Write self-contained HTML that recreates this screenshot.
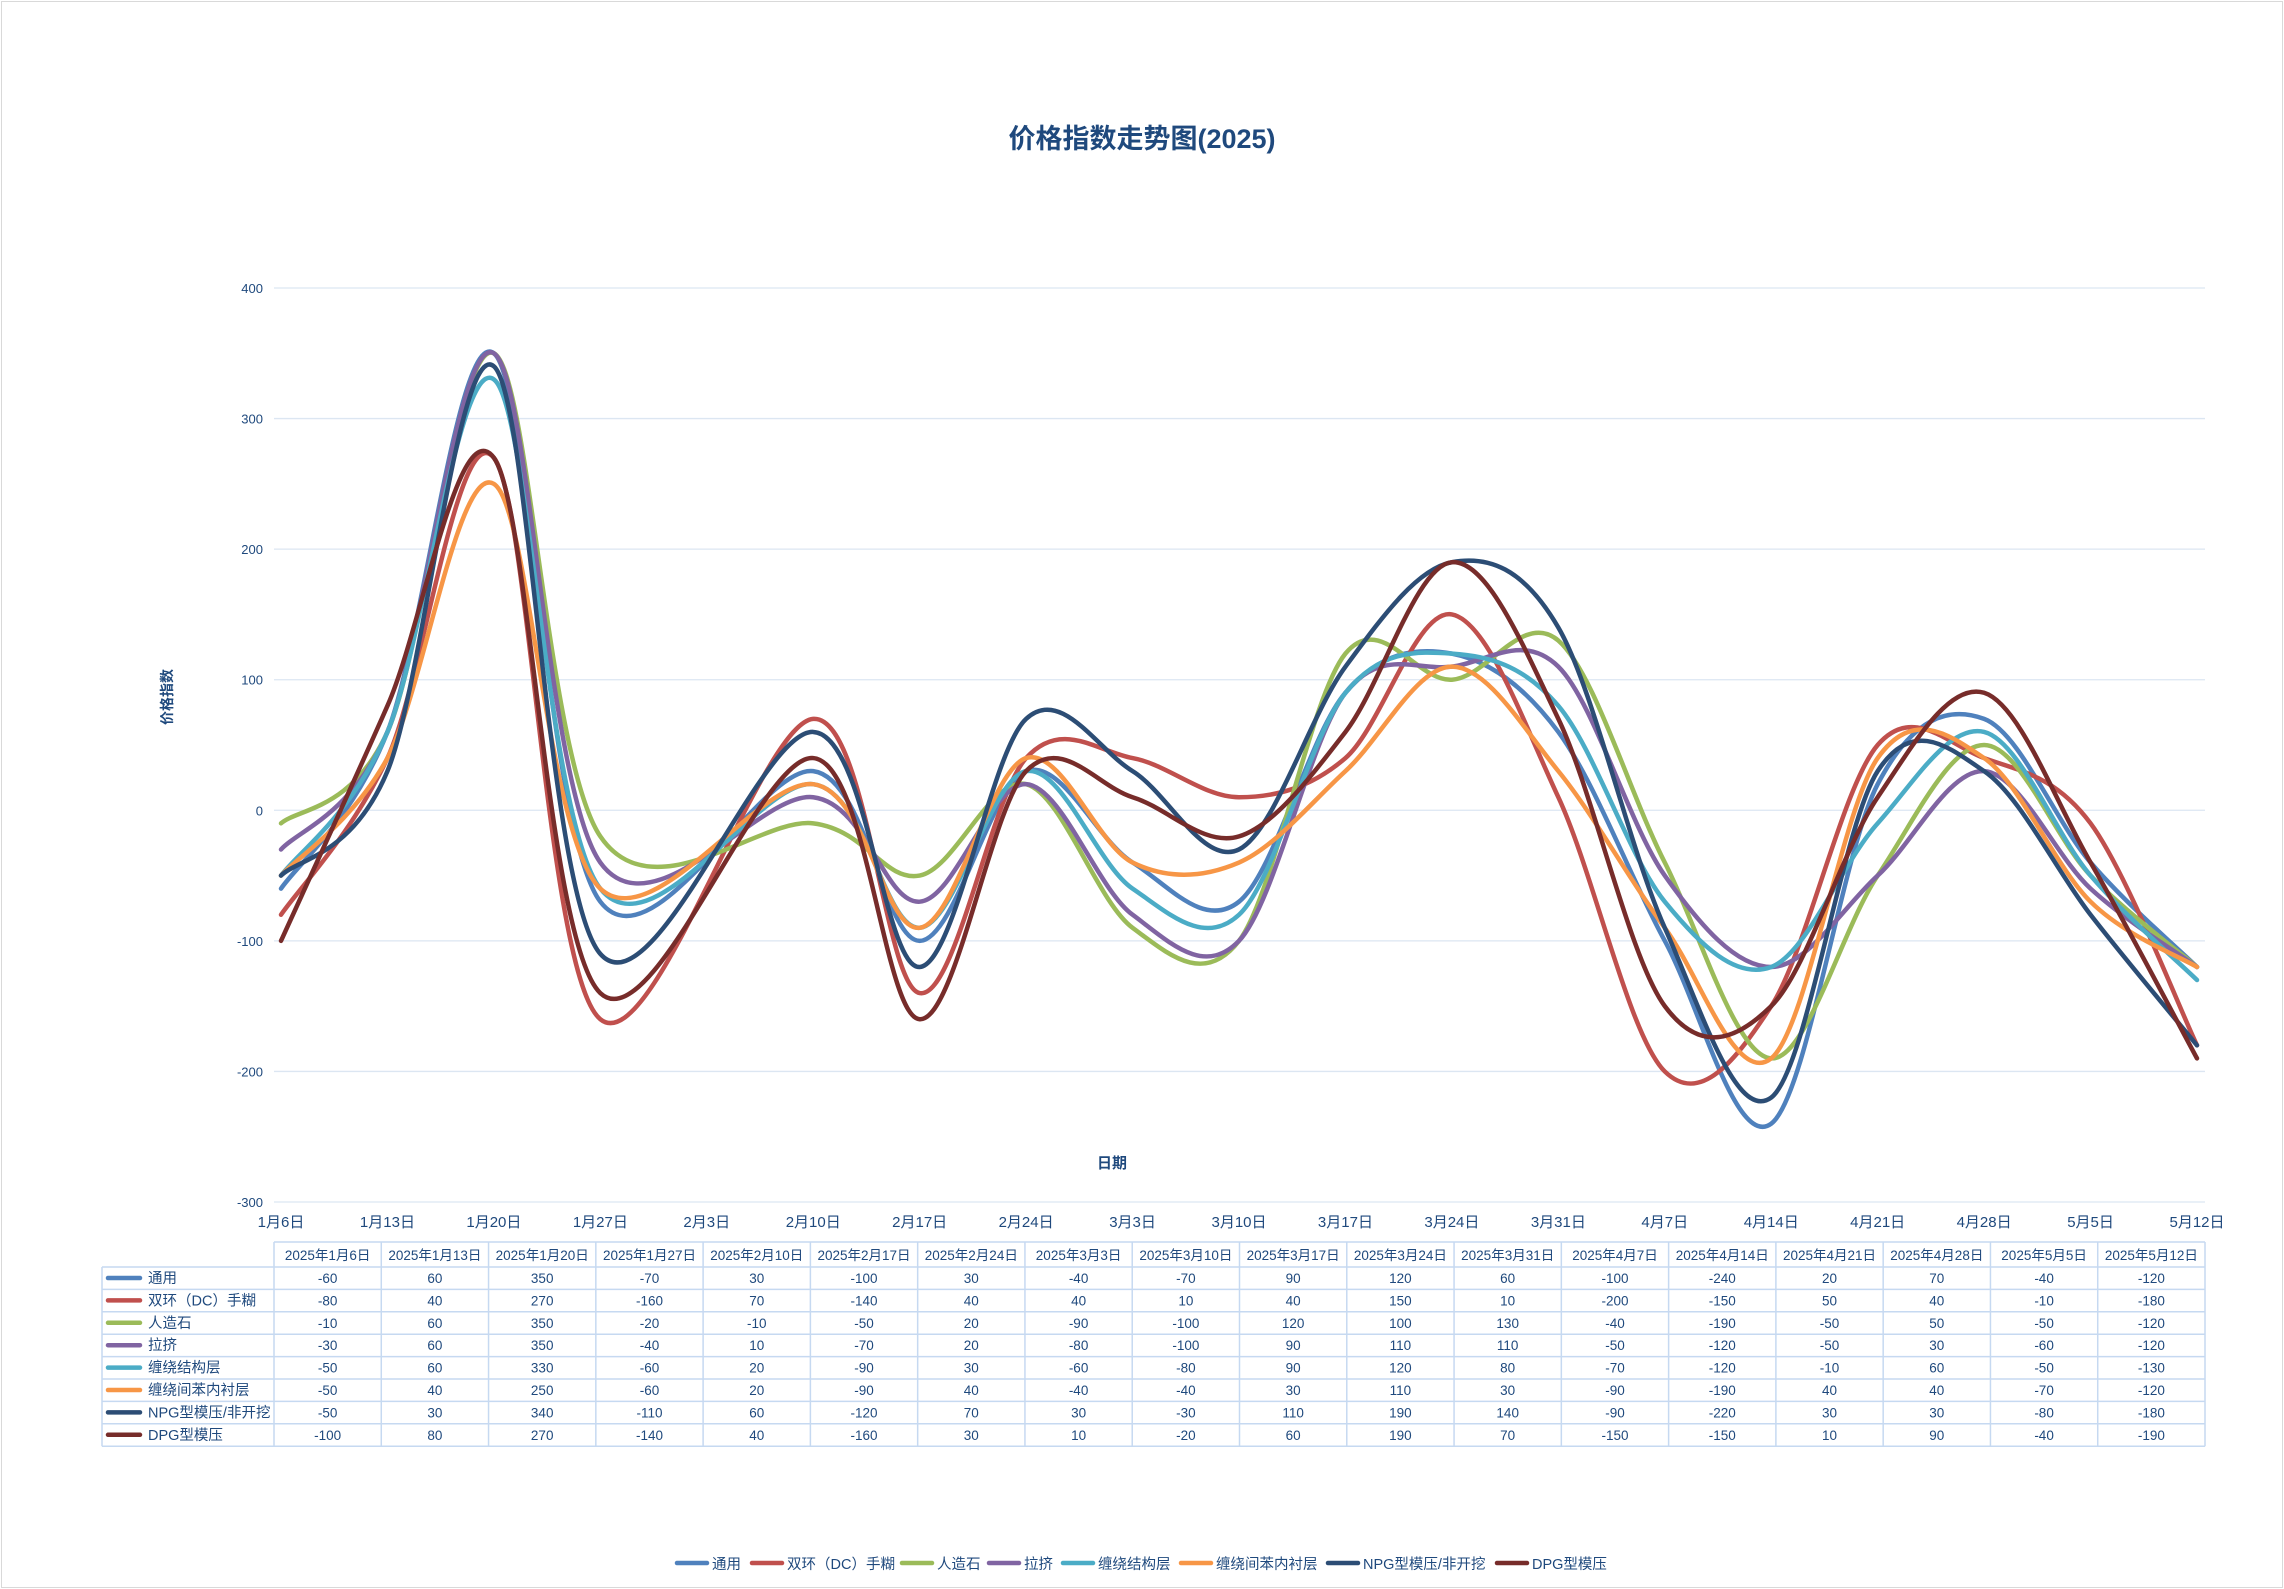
<!DOCTYPE html>
<html><head><meta charset="utf-8">
<style>
body{margin:0;background:#fff;}
#wrap{position:relative;width:2284px;height:1589px;overflow:hidden;background:#fff;font-family:"Liberation Sans","Noto Sans CJK SC",sans-serif;color:#1F497D;}
#frame{position:absolute;left:1px;top:1px;width:2280px;height:1585px;border:1px solid #D9D9D9;}
svg text{font-family:"Liberation Sans","Noto Sans CJK SC",sans-serif;fill:#1F497D;}
</style></head>
<body>
<div id="wrap">
<div id="frame"></div>
<svg id="chart" width="2284" height="1589"></svg>
</div>
<script>
const categories=["1月6日","1月13日","1月20日","1月27日","2月3日","2月10日","2月17日","2月24日","3月3日","3月10日","3月17日","3月24日","3月31日","4月7日","4月14日","4月21日","4月28日","5月5日","5月12日"];
const tableDates=["2025年1月6日","2025年1月13日","2025年1月20日","2025年1月27日","2025年2月10日","2025年2月17日","2025年2月24日","2025年3月3日","2025年3月10日","2025年3月17日","2025年3月24日","2025年3月31日","2025年4月7日","2025年4月14日","2025年4月21日","2025年4月28日","2025年5月5日","2025年5月12日"];
const seriesNames=["通用","双环（DC）手糊","人造石","拉挤","缠绕结构层","缠绕间苯内衬层","NPG型模压/非开挖","DPG型模压"];
const sTongyong=[-60,60,350,-70,30,-100,30,-40,-70,90,120,60,-100,-240,20,70,-40,-120];
const sShuanghuan=[-80,40,270,-160,70,-140,40,40,10,40,150,10,-200,-150,50,40,-10,-180];
const sRenzaoshi=[-10,60,350,-20,-10,-50,20,-90,-100,120,100,130,-40,-190,-50,50,-50,-120];
const sLaji=[-30,60,350,-40,10,-70,20,-80,-100,90,110,110,-50,-120,-50,30,-60,-120];
const sChanraoJG=[-50,60,330,-60,20,-90,30,-60,-80,90,120,80,-70,-120,-10,60,-50,-130];
const sChanraoNC=[-50,40,250,-60,20,-90,40,-40,-40,30,110,30,-90,-190,40,40,-70,-120];
const sNPG=[-50,30,340,-110,60,-120,70,30,-30,110,190,140,-90,-220,30,30,-80,-180];
const sDPG=[-100,80,270,-140,40,-160,30,10,-20,60,190,70,-150,-150,10,90,-40,-190];
const yTicks=[400,300,200,100,0,-100,-200,-300];
const allSeries=[sTongyong,sShuanghuan,sRenzaoshi,sLaji,sChanraoJG,sChanraoNC,sNPG,sDPG];
const colors=["#4F81BD","#C0504D","#9BBB59","#8064A2","#4BACC6","#F79646","#2C4D75","#772C2A"];
const NS="http://www.w3.org/2000/svg";
const svg=document.getElementById('chart');
const plotL=274,plotR=2205,yTop=288,yBot=1202;
const xStart=281,xEnd=2197;
function yScale(v){return yBot-(v+300)/700*(yBot-yTop);}
function xScale(i){return xStart+i*(xEnd-xStart)/(categories.length-1);}
function dateX(j){return xScale(categories.indexOf(tableDates[j].replace('2025年','')));}
function mk(tag,attrs,parent){const e=document.createElementNS(NS,tag);for(const k in attrs)e.setAttribute(k,attrs[k]);(parent||svg).appendChild(e);return e;}
let t=mk('text',{x:1142,y:148,'font-size':27,'font-weight':'bold','text-anchor':'middle'});


t.textContent='价格指数走势图(2025)';
yTicks.forEach(v=>{
 const y=yScale(v);
 const g=mk('line',{x1:plotL,x2:plotR,y1:y,y2:y,stroke:'#DCE6F2','stroke-width':1.3});
 
 
 const l=mk('text',{x:263,y:y+5,'font-size':13,'text-anchor':'end'});
 
 
 l.textContent=v;
});
t=mk('text',{x:0,y:0,'font-size':14,'font-weight':'bold','text-anchor':'middle',transform:'translate(172,697) rotate(-90)'});


t.textContent='价格指数';
categories.forEach((c,i)=>{
 const l=mk('text',{x:xScale(i),y:1227,'font-size':15,'text-anchor':'middle'});
 
 
 l.textContent=c;
});
t=mk('text',{x:1112,y:1168,'font-size':15,'font-weight':'bold','text-anchor':'middle'});


t.textContent='日期';
function pathFor(vals){
 const p=vals.map((v,j)=>[dateX(j),yScale(v)]);
 let d='M'+p[0][0]+','+p[0][1];
 for(let i=0;i<p.length-1;i++){
  const p0=p[i-1]||p[i],p1=p[i],p2=p[i+1],p3=p[i+2]||p[i+1];
  const c1=[p1[0]+(p2[0]-p0[0])/6,p1[1]+(p2[1]-p0[1])/6];
  const c2=[p2[0]-(p3[0]-p1[0])/6,p2[1]-(p3[1]-p1[1])/6];
  d+=' C'+c1[0]+','+c1[1]+' '+c2[0]+','+c2[1]+' '+p2[0]+','+p2[1];
 }
 return d;
}
allSeries.forEach((s,k)=>{
 const p=mk('path',{d:pathFor(s),fill:'none',stroke:colors[k],'stroke-width':4.5,'stroke-linejoin':'round','stroke-linecap':'round'});
 
 
});
const tL=274,tR=2205,hTop=1242,hBot=1267,rowH=22.4;
const colW=(tR-tL)/tableDates.length;
const tb=mk('g',{});


const bc='#C6D9F1';
mk('line',{x1:tL,x2:tR,y1:hTop,y2:hTop,stroke:bc,'stroke-width':1.5},tb);
for(let r=0;r<=seriesNames.length;r++){
 const y=hBot+r*rowH;
 mk('line',{x1:102,x2:tR,y1:y,y2:y,stroke:bc,'stroke-width':1.5},tb);
}
const tBot=hBot+seriesNames.length*rowH;
for(let c=0;c<=tableDates.length;c++){
 const x=tL+c*colW;
 mk('line',{x1:x,x2:x,y1:hTop,y2:tBot,stroke:bc,'stroke-width':1.5},tb);
}
mk('line',{x1:102,x2:102,y1:hBot,y2:tBot,stroke:bc,'stroke-width':1.5},tb);
tableDates.forEach((d,c)=>{
 const l=mk('text',{x:tL+(c+0.5)*colW,y:hTop+18,'font-size':13.5,'text-anchor':'middle'},tb);
 
 
 l.textContent=d;
});
allSeries.forEach((s,r)=>{
 const y=hBot+r*rowH+16;
 const sw=mk('line',{x1:108,x2:140,y1:y-5,y2:y-5,stroke:colors[r],'stroke-width':4.5,'stroke-linecap':'round'},tb);
 
 
 const n=mk('text',{x:148,y:y,'font-size':14.5},tb);
 
 
 n.textContent=seriesNames[r];
 s.forEach((v,c)=>{
  const l=mk('text',{x:tL+(c+0.5)*colW,y:y,'font-size':13.5,'text-anchor':'middle'},tb);
  
  
  l.textContent=v;
 });
});
const legX=[677,752,902,989,1063,1181,1328,1497];
seriesNames.forEach((n,k)=>{
 const g=mk('g',{});
 
 
 mk('line',{x1:legX[k],x2:legX[k]+30,y1:1563,y2:1563,stroke:colors[k],'stroke-width':4.5,'stroke-linecap':'round'},g);
 const l=mk('text',{x:legX[k]+35,y:1569,'font-size':14.5},g);
 l.textContent=n;
});
</script>
</body></html>
